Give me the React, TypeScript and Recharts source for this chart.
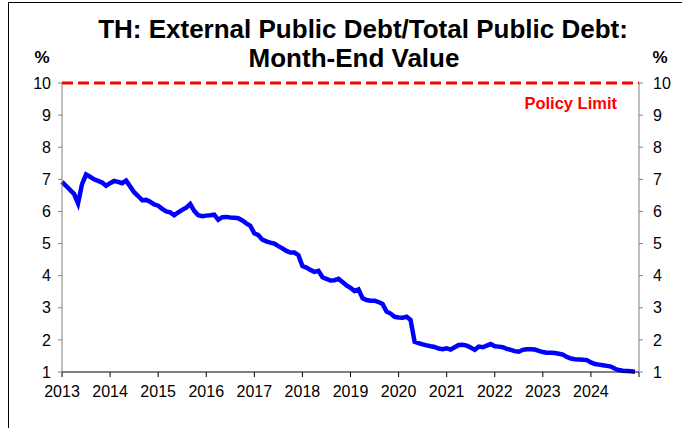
import { LineChart, Line, XAxis, YAxis, ReferenceLine } from 'recharts'

// month-end readings, Jan 2013 .. Dec 2024
const startYear = 2013
const monthlyShare = [
  6.92, 6.8, 6.67, 6.55, 6.25, 6.85, 7.15, 7.08, 7.0, 6.95, 6.9, 6.8,
  6.88, 6.95, 6.92, 6.88, 6.96, 6.78, 6.6, 6.48, 6.35, 6.36, 6.3, 6.22,
  6.18, 6.08, 6.0, 5.97, 5.88, 5.97, 6.05, 6.12, 6.23, 6.02, 5.88, 5.85,
  5.87, 5.88, 5.9, 5.74, 5.82, 5.83, 5.81, 5.8, 5.79, 5.72, 5.63, 5.55,
  5.32, 5.26, 5.12, 5.07, 5.03, 5.0, 4.92, 4.85, 4.77, 4.72, 4.72, 4.64,
  4.3, 4.25, 4.18, 4.12, 4.15, 3.95, 3.9, 3.85, 3.86, 3.9, 3.8, 3.7,
  3.62, 3.52, 3.57, 3.3, 3.24, 3.22, 3.22, 3.18, 3.12, 2.88, 2.82, 2.72,
  2.7, 2.69, 2.72, 2.62, 1.94, 1.9, 1.86, 1.83, 1.8, 1.78, 1.73, 1.71,
  1.74, 1.7, 1.77, 1.84, 1.85, 1.82, 1.76, 1.69, 1.79, 1.77, 1.82, 1.87,
  1.8, 1.79, 1.77, 1.72, 1.69, 1.65, 1.63, 1.69, 1.71, 1.71, 1.7, 1.66,
  1.62, 1.6, 1.6, 1.59, 1.57, 1.54, 1.47, 1.42, 1.4, 1.39, 1.38, 1.37,
  1.3, 1.25, 1.23, 1.21, 1.19, 1.17, 1.1, 1.06, 1.04, 1.03, 1.02, 1.01,
]
const yearTicks = [2013, 2014, 2015, 2016, 2017, 2018, 2019, 2020, 2021, 2022, 2023, 2024, 2025]
const yTicks = [1, 2, 3, 4, 5, 6, 7, 8, 9, 10]
const policyLimit = 10

const data = monthlyShare.map((v, i) => ({ t: startYear + i / 12, value: v }))

const font = "'Liberation Sans', Arial, sans-serif"

const PolicyLabel = (props: any) => {
  const vb = props.viewBox || {}
  return (
    <text
      x={vb.x + vb.width - 22}
      y={vb.y + 26}
      textAnchor="end"
      fill="#ff0000"
      fontSize={16.5}
      fontWeight="bold"
      fontFamily={font}
    >
      Policy Limit
    </text>
  )
}

export default function App() {
  return (
    <div style={{ position: 'absolute', left: 0, top: 0, width: 682, height: 428, overflow: 'hidden', background: '#fff' }}>
      <LineChart width={682} height={428} data={data} margin={{ top: 83, right: 0, bottom: 0, left: 0 }}>
        <XAxis
          dataKey="t"
          type="number"
          domain={[2013, 2025]}
          ticks={yearTicks}
          tickFormatter={(v: number) => (v === 2025 ? '' : String(v))}
          height={56}
          tickSize={5}
          tickMargin={9}
          stroke="#000"
          tick={{ fill: '#000', fontSize: 16, fontFamily: font }}
        />
        <YAxis
          yAxisId="left"
          domain={[1, 10]}
          ticks={yTicks}
          width={62}
          tickSize={4}
          tickMargin={7}
          stroke="#808080"
          tick={{ fill: '#000', fontSize: 16, fontFamily: font }}
        />
        <YAxis
          yAxisId="right"
          orientation="right"
          domain={[1, 10]}
          ticks={yTicks}
          width={43}
          tickSize={4}
          tickMargin={10}
          stroke="#808080"
          tick={{ fill: '#000', fontSize: 16, fontFamily: font }}
        />
        <ReferenceLine
          yAxisId="left"
          y={policyLimit}
          stroke="#ff0000"
          strokeWidth={3}
          strokeDasharray="11 5"
          label={<PolicyLabel />}
        />
        {/* mirror of the series so the right-hand scale gets drawn */}
        <Line
          yAxisId="right"
          type="linear"
          dataKey="value"
          stroke="none"
          strokeWidth={0}
          dot={false}
          activeDot={false}
          legendType="none"
          isAnimationActive={false}
        />
        <Line
          yAxisId="left"
          type="linear"
          dataKey="value"
          stroke="#0000ff"
          strokeWidth={4.5}
          dot={false}
          isAnimationActive={false}
        />
      </LineChart>
      <svg width={682} height={428} style={{ position: 'absolute', left: 0, top: 0, pointerEvents: 'none' }}>
        <rect x={8.5} y={2.5} width={800} height={800} fill="none" stroke="#000" strokeWidth={1} />
        <g fontFamily={font} fontWeight="bold" fill="#000" textAnchor="middle">
          <text x={363} y={38} fontSize={26}>TH: External Public Debt/Total Public Debt:</text>
          <text x={354} y={67} fontSize={26}>Month-End Value</text>
          <text x={42} y={63} fontSize={17}>%</text>
          <text x={660} y={63} fontSize={17}>%</text>
        </g>
      </svg>
    </div>
  )
}
